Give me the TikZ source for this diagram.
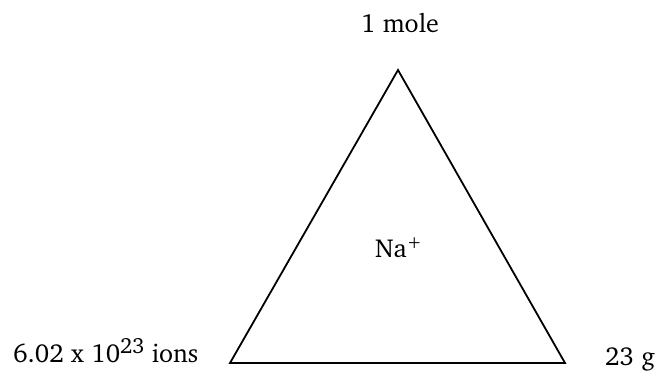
\documentclass[tikz,border=0pt]{standalone}
\usepackage[T1]{fontenc}
\usepackage{charter}
\newcommand{\mysup}[1]{\raisebox{9pt}{\fontsize{22}{22}\selectfont #1}}
\newcommand{\mysmallsup}[1]{\raisebox{9pt}{\fontsize{18}{18}\selectfont #1}}
\begin{document}
\begin{tikzpicture}[x=1pt,y=-1pt,
  lbl/.style={inner sep=0pt,anchor=base,font=\fontsize{26}{30}\selectfont}]
\useasboundingbox (0,0) rectangle (659,380);
\coordinate (top) at (398,70);
\coordinate (bl) at (230,363);
\coordinate (br) at (565,363);
\draw[line width=1.8pt,line join=miter] (top) -- (br) -- (bl) -- cycle;
\node[lbl] (mole) at (400,32) {1 mole};
\node[lbl,anchor=base west] (na) at (375,257) {Na\mysmallsup{+}};
\node[lbl,anchor=base west] (ions) at (13,362) {6.02 x 10\mysup{23} ions};
\node[lbl,anchor=base west] (g) at (605,365) {23 g};
\end{tikzpicture}
\end{document}
